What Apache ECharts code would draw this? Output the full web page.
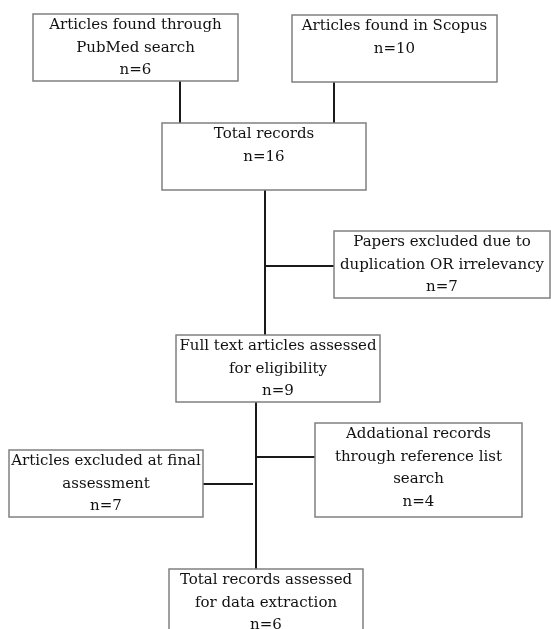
<!DOCTYPE html>
<html>
<head>
<meta charset="utf-8">
<script src="https://cdn.jsdelivr.net/npm/echarts@6/dist/echarts.min.js"></script>
<style>html,body{margin:0;padding:0;background:#fff;}#c{width:551px;height:629px;}</style>
</head>
<body>
<div id="c"></div>
<script>
// Flowchart boxes: [x1, y1, x2, y2] in page units, plus label text
const boxLabels = [
  "Articles found through\nPubMed search\nn=6",
  "Articles found in Scopus\nn=10",
  "Total records\nn=16",
  "Papers excluded due to\nduplication OR irrelevancy\nn=7",
  "Full text articles assessed\nfor eligibility\nn=9",
  "Addational records\nthrough reference list\nsearch\nn=4",
  "Articles excluded at final\nassessment\nn=7",
  "Total records assessed\nfor data extraction\nn=6"
];
const boxRects = [
  [33, 14, 238, 81],
  [292, 15, 497, 82],
  [162, 123, 366, 190],
  [334, 231, 550, 298],
  [176, 335, 380, 402],
  [315, 423, 522, 517],
  [9, 450, 203, 517],
  [169, 569, 363, 645]
];
// Connectors: [[x1,y1],[x2,y2]]
const connectors = [
  [[180, 81], [180, 123]],
  [[334, 82], [334, 123]],
  [[265, 190], [265, 335]],
  [[265, 266], [334, 266]],
  [[256, 402], [256, 569]],
  [[256, 457], [315, 457]],
  [[203, 484], [253, 484]]
];

const boxData = boxRects.map((r, i) => [r[0], r[1], r[2], r[3], boxLabels[i]]);

const chart = echarts.init(document.getElementById('c'), null, {renderer: 'canvas'});
chart.setOption({
  animation: false,
  backgroundColor: '#ffffff',
  grid: {left: 0, right: 0, top: 0, bottom: 0},
  xAxis: {type: 'value', min: 0, max: 551, show: false},
  yAxis: {type: 'value', min: 0, max: 629, inverse: true, show: false},
  series: [
    {
      type: 'lines',
      coordinateSystem: 'cartesian2d',
      silent: true,
      lineStyle: {color: '#1a1a1a', width: 2, opacity: 1},
      data: connectors.map(c => ({coords: c})),
      z: 1
    },
    {
      type: 'custom',
      coordinateSystem: 'cartesian2d',
      clip: false,
      silent: true,
      data: boxData,
      encode: {x: [0, 2], y: [1, 3]},
      renderItem: function (params, api) {
        const p1 = api.coord([api.value(0), api.value(1)]);
        const p2 = api.coord([api.value(2), api.value(3)]);
        const label = boxData[params.dataIndex][4];
        return {
          type: 'group',
          children: [
            {
              type: 'rect',
              shape: {x: p1[0], y: p1[1], width: p2[0] - p1[0], height: p2[1] - p1[1]},
              style: {fill: '#ffffff', stroke: '#808080', lineWidth: 1.5}
            },
            {
              type: 'text',
              style: {
                text: label,
                x: (p1[0] + p2[0]) / 2,
                y: p1[1],
                align: 'center',
                verticalAlign: 'top',
                fontFamily: 'DejaVu Serif',
                fontSize: 15,
                lineHeight: 22.5,
                fill: '#111111'
              }
            }
          ]
        };
      },
      z: 2
    }
  ]
});
</script>
</body>
</html>
